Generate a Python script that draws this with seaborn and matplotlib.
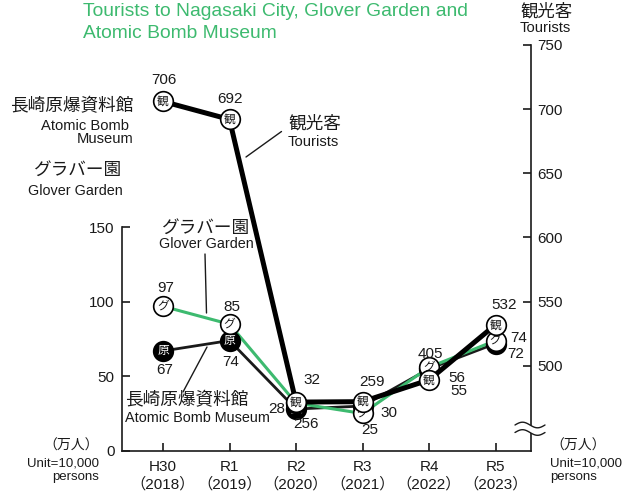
import numpy as np
import pandas as pd
import matplotlib
matplotlib.use("Agg")
import matplotlib.pyplot as plt
from matplotlib.lines import Line2D
from matplotlib.patches import Polygon
import seaborn as sns

# ---------------- data ----------------
years = ["H30", "R1", "R2", "R3", "R4", "R5"]
years_ad = ["2018", "2019", "2020", "2021", "2022", "2023"]
tourists = [706, 692, 256, 259, 405, 532]
glover = [97, 85, 32, 25, 56, 74]
atomic = [67, 74, 28, 30, 55, 72]
left_ticks = [0, 50, 100, 150]
right_ticks = [500, 550, 600, 650, 700, 750]

# label offsets (pixels) relative to each marker
off_tour = [(1, 21), (0, 20), (10, -22), (9, 20), (1, 26), (9, 20)]
off_glov = [(3, 18), (2, 17), (16, 23), (7, -17), (28, -11), (23, 3)]
off_atom = [(2, -19), (1, -21), (-19, 0), (26, -7), (30, -22), (20, -10)]

df = pd.DataFrame({"pos": np.arange(len(years)), "tourists": tourists,
                   "glover": glover, "atomic": atomic})

sns.set_theme(style="white")
plt.rcParams['font.family'] = ['Liberation Sans', 'Noto Sans CJK JP']
plt.rcParams['axes.unicode_minus'] = False

GREEN = '#3dba6f'
INK = '#1a1a1a'
W, H = 635, 494

fig = plt.figure(figsize=(W / 100, H / 100), dpi=100)
fig.patch.set_facecolor('white')
ax = fig.add_axes([121.7 / W, (H - 450.7) / H, (530.7 - 121.7) / W, (450.7 - 45) / H])
ax.patch.set_alpha(0)
ax2 = ax.twinx()

# tourist scale (broken axis): above 500 linear, below compressed
BASE = 57.05
K_UP = 0.862
K_LO = 0.1


def fwd(r):
    r = np.asarray(r, dtype=float)
    return np.where(r >= 500, BASE + (r - 500) * K_UP, BASE - (500 - r) * K_LO)


def inv(v):
    v = np.asarray(v, dtype=float)
    return np.where(v >= BASE, 500 + (v - BASE) / K_UP, 500 - (BASE - v) / K_LO)


ax2.set_yscale('function', functions=(fwd, inv))
ax2.set_ylim(float(inv(0)), 750)
ax.set_ylim(0, float(fwd(750)))
ax.set_xlim(-0.621, 5.529)
ax2.set_xlim(-0.621, 5.529)

# ---------------- lines ----------------
sns.lineplot(data=df, x="pos", y="atomic", ax=ax, color=INK, lw=2.0,
             sort=False, errorbar=None, zorder=2)
sns.lineplot(data=df, x="pos", y="glover", ax=ax, color=GREEN, lw=2.2,
             sort=False, errorbar=None, zorder=3)
sns.lineplot(data=df, x="pos", y="tourists", ax=ax2, color='black', lw=3.6,
             sort=False, errorbar=None, zorder=2)

MS = 200
sns.scatterplot(data=df, x="pos", y="atomic", ax=ax, s=MS, color='black',
                edgecolor='black', linewidth=1.2, zorder=4)
sns.scatterplot(data=df, x="pos", y="glover", ax=ax, s=MS, color='white',
                edgecolor='black', linewidth=1.2, zorder=5)
sns.scatterplot(data=df, x="pos", y="tourists", ax=ax2, s=MS, color='white',
                edgecolor='black', linewidth=1.2, zorder=5)

for i in range(len(years)):
    ax.text(i, atomic[i], "原", ha='center', va='center', fontsize=8.5,
            color='white', zorder=4.5, family=['Noto Sans CJK JP'])
    ax.text(i, glover[i], "グ", ha='center', va='center', fontsize=8.5,
            color=INK, zorder=5.5, family=['Noto Sans CJK JP'])
    ax2.text(i, tourists[i], "観", ha='center', va='center', fontsize=8.5,
             color=INK, zorder=5.5, family=['Noto Sans CJK JP'])

# value labels (all drawn on the top axes so lines never cover them)
PT = 0.72
for i in range(len(years)):
    ax2.annotate(str(tourists[i]), (i, tourists[i]),
                 xytext=(off_tour[i][0] * PT, off_tour[i][1] * PT),
                 textcoords='offset points', ha='center', va='center', fontsize=11, color=INK, zorder=7)
    ax2.annotate(str(glover[i]), (i, glover[i]), xycoords=ax.transData,
                 xytext=(off_glov[i][0] * PT, off_glov[i][1] * PT),
                 textcoords='offset points', ha='center', va='center', fontsize=11, color=INK, zorder=7)
    ax2.annotate(str(atomic[i]), (i, atomic[i]), xycoords=ax.transData,
                 xytext=(off_atom[i][0] * PT, off_atom[i][1] * PT),
                 textcoords='offset points', ha='center', va='center', fontsize=11, color=INK, zorder=7)

# ---------------- axes styling ----------------
for s in ['top', 'right']:
    ax.spines[s].set_visible(False)
for s in ['top', 'left', 'bottom']:
    ax2.spines[s].set_visible(False)
ax.spines['left'].set_bounds(0, 150)
for sp in [ax.spines['left'], ax.spines['bottom'], ax2.spines['right']]:
    sp.set_color(INK)
    sp.set_linewidth(1.2)

ax.set_yticks(left_ticks)
ax.set_yticklabels([str(t) for t in left_ticks])
ax2.set_yticks(right_ticks)
ax2.set_yticklabels([str(t) for t in right_ticks])
ax2.yaxis.set_minor_locator(matplotlib.ticker.NullLocator())
ax.set_xticks(range(len(years)))
ax.set_xticklabels([f"{y}\n（{a}）" for y, a in zip(years, years_ad)])
ax.tick_params(axis='y', direction='in', length=6, width=1.2, pad=5, labelsize=11, colors=INK, left=True)
ax.tick_params(axis='x', direction='in', length=6, width=1.2, pad=7, labelsize=11, colors=INK, bottom=True)
ax2.tick_params(axis='y', direction='in', length=6, width=1.2, pad=5, labelsize=11, colors=INK, right=True)
for a in (ax, ax2):
    a.set_xlabel('')
    a.set_ylabel('')
    a.grid(False)
for lab in ax.get_xticklabels():
    lab.set_linespacing(1.25)


# ---------------- annotations ----------------
def P(x, y):
    return (x / W, 1 - y / H)


def ftext(x, y, s, size, ha='left', color=INK, **kw):
    fig.text(*P(x, y), s, ha=ha, va='center', fontsize=size, color=color, **kw)


def fline(x0, y0, x1, y1, lw=1.0):
    (a0, b0), (a1, b1) = P(x0, y0), P(x1, y1)
    fig.add_artist(Line2D([a0, a1], [b0, b1], transform=fig.transFigure, color=INK, lw=lw, zorder=8))


ftext(83, 11, "Tourists to Nagasaki City, Glover Garden and", 13.9, color=GREEN)
ftext(83, 33, "Atomic Bomb Museum", 13.9, color=GREEN)

ftext(520, 11, "観光客", 12.5, ha='left')
ftext(520, 28, "Tourists", 10.6)

ftext(133, 107, "長崎原爆資料館", 12.7, ha='right')
ftext(129, 126, "Atomic Bomb", 10.6, ha='right')
ftext(133, 139, "Museum", 10.6, ha='right')
ftext(122, 170, "グラバー園", 12.7, ha='right')
ftext(123, 191, "Glover Garden", 10.4, ha='right')

ftext(288, 124, "観光客", 12.7)
ftext(288, 142, "Tourists", 10.6)
fline(281.5, 131.5, 246, 157)

ftext(206, 228, "グラバー園", 12.7, ha='center')
ftext(206, 244, "Glover Garden", 10.4, ha='center')
fline(205, 254, 206.5, 313)

ftext(125, 401, "長崎原爆資料館", 12.7)
ftext(125, 418, "Atomic Bomb Museum", 10.4)
fline(183, 392, 207, 347)

ftext(71, 446, "（万人）", 10, ha='center')
ftext(99, 463, "Unit=10,000", 9.5, ha='right')
ftext(99, 477, "persons", 9.5, ha='right')
ftext(578, 446, "（万人）", 10, ha='center')
ftext(550, 463, "Unit=10,000", 9.5)
ftext(550, 477, "persons", 9.5)

# axis break symbol
xs = np.linspace(515, 545, 60)
t = (xs - 515) / 30.0
y_up = 425 - 2.8 * np.sin(2 * np.pi * t)
y_lo = 432.5 - 2.8 * np.sin(2 * np.pi * t)
poly_pts = [P(x, y) for x, y in zip(xs, y_up)] + [P(x, y) for x, y in zip(xs[::-1], y_lo[::-1])]
fig.add_artist(Polygon(poly_pts, closed=True, transform=fig.transFigure, facecolor='white',
                       edgecolor='none', zorder=9))
for yy in (y_up, y_lo):
    pts = [P(x, y) for x, y in zip(xs, yy)]
    fig.add_artist(Line2D([p[0] for p in pts], [p[1] for p in pts], transform=fig.transFigure,
                          color=INK, lw=1.0, zorder=10))

fig.savefig("out.png", dpi=100, facecolor='white')
